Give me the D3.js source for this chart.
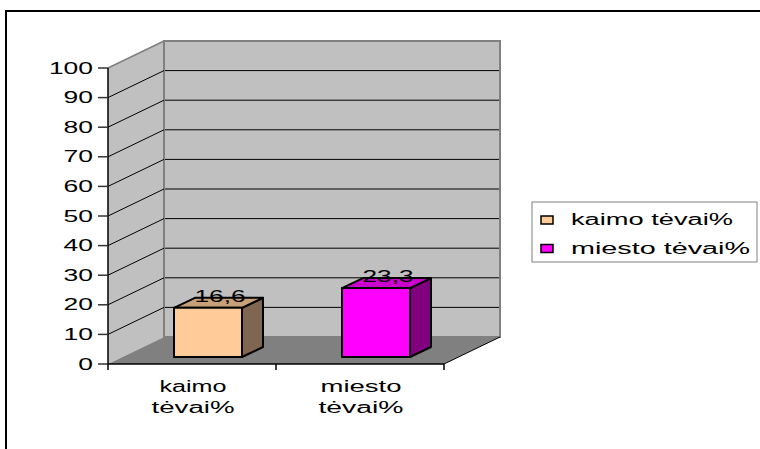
<!DOCTYPE html>
<html>
<head>
<meta charset="utf-8">
<script src="https://cdn.jsdelivr.net/npm/d3@7"></script>
<style>
  body { margin: 0; background: #fff; }
  svg { display: block; }
  text { font-family: "Liberation Sans", Arial, sans-serif; fill: #000; }
</style>
</head>
<body>
<svg width="760" height="449"></svg>
<script>
const categories = ["kaimo tėvai%", "miesto tėvai%"];
const catLines = [["kaimo", "tėvai%"], ["miesto", "tėvai%"]];
const values = [16.6, 23.3];
const valueLabels = ["16,6", "23,3"];
const seriesNames = ["kaimo tėvai%", "miesto tėvai%"];
const yTicks = [0, 10, 20, 30, 40, 50, 60, 70, 80, 90, 100];

const colors = [
  { front: "#FFCC99", top: "#C8A078", side: "#806650" },
  { front: "#FF00FF", top: "#CC00CC", side: "#800080" }
];

const svg = d3.select("svg");
const depth = { x: 56, y: -27 };       // wall depth
const barDepth = { x: 21, y: -10 };    // bar depth
const barShift = { x: 16, y: -7 };     // bar position inside the floor
const barW = 68;
const fs = 16;

const y = d3.scaleLinear().domain([0, 100]).range([364, 68]);
const x = d3.scaleBand().domain(categories).range([108, 444]);

// outer frame
svg.append("rect")
  .attr("x", 6).attr("y", 11)
  .attr("width", 800).attr("height", 500)
  .attr("fill", "none").attr("stroke", "#000").attr("stroke-width", 2);

const x0 = x.range()[0], x1 = x.range()[1];
const yTop = y(100), yBot = y(0);

// left wall
svg.append("polygon")
  .attr("points", [[x0, yTop], [x0 + depth.x, yTop + depth.y], [x0 + depth.x, yBot + depth.y], [x0, yBot]].join(" "))
  .attr("fill", "#C0C0C0");
svg.append("line")
  .attr("x1", x0).attr("y1", yTop).attr("x2", x0 + depth.x).attr("y2", yTop + depth.y)
  .attr("stroke", "#808080").attr("stroke-width", 1.5);

// floor
svg.append("polygon")
  .attr("points", [[x0, yBot], [x0 + depth.x, yBot + depth.y], [x1 + depth.x, yBot + depth.y], [x1, yBot]].join(" "))
  .attr("fill", "#808080");

// back wall
svg.append("rect")
  .attr("x", x0 + depth.x).attr("y", yTop + depth.y)
  .attr("width", x1 - x0).attr("height", yBot - yTop)
  .attr("fill", "#C0C0C0").attr("stroke", "#808080").attr("stroke-width", 2);

// gridlines
const grid = yTicks.filter(d => d > 0 && d < 100);
svg.append("g").selectAll("line").data(grid).join("line")
  .attr("x1", x0 + depth.x + 1).attr("x2", x1 + depth.x - 1)
  .attr("y1", d => y(d) + depth.y).attr("y2", d => y(d) + depth.y)
  .attr("stroke", "#000").attr("stroke-width", 1);
svg.append("g").selectAll("line").data(grid).join("line")
  .attr("x1", x0).attr("x2", x0 + depth.x)
  .attr("y1", d => y(d)).attr("y2", d => y(d) + depth.y)
  .attr("stroke", "#000").attr("stroke-width", 1);

// axes lines
svg.append("line").attr("x1", x0).attr("x2", x0).attr("y1", yTop).attr("y2", yBot)
  .attr("stroke", "#000").attr("stroke-width", 1.5);
svg.append("line").attr("x1", x0).attr("x2", x1).attr("y1", yBot).attr("y2", yBot)
  .attr("stroke", "#000").attr("stroke-width", 1.5);
svg.append("line").attr("x1", x1).attr("y1", yBot).attr("x2", x1 + depth.x).attr("y2", yBot + depth.y)
  .attr("stroke", "#000").attr("stroke-width", 1);

// y ticks + labels
const yAxis = svg.append("g");
yAxis.selectAll("line").data(yTicks).join("line")
  .attr("x1", x0 - 10).attr("x2", x0)
  .attr("y1", d => y(d)).attr("y2", d => y(d))
  .attr("stroke", "#333").attr("stroke-width", 1.5);
yAxis.selectAll("text").data(yTicks).join("text")
  .attr("x", 93).attr("y", d => y(d) + 5.5)
  .attr("text-anchor", "end")
  .attr("font-size", fs)
  .attr("textLength", d => String(d).length * 14.7)
  .attr("lengthAdjust", "spacingAndGlyphs")
  .text(d => d);

// x ticks
const xTickPos = categories.map(c => x(c)).concat([x1]);
svg.append("g").selectAll("line").data(xTickPos).join("line")
  .attr("x1", d => d).attr("x2", d => d)
  .attr("y1", yBot).attr("y2", yBot + 6)
  .attr("stroke", "#000").attr("stroke-width", 1.5);

// x labels
const lineWidths = [[67, 83], [81, 85]];
categories.forEach((c, i) => {
  const cx = x(c) + x.bandwidth() / 2 + 1;
  catLines[i].forEach((t, j) => {
    svg.append("text")
      .attr("x", cx).attr("y", 392 + j * 21)
      .attr("text-anchor", "middle")
      .attr("font-size", fs)
      .attr("textLength", lineWidths[i][j])
      .attr("lengthAdjust", "spacingAndGlyphs")
      .text(t);
  });
});

// bars
const bars = svg.append("g");
categories.forEach((c, i) => {
  const bx = x(c) + (x.bandwidth() - barW) / 2 + barShift.x;
  const by0 = y(0) + barShift.y;
  const by1 = y(values[i]) + barShift.y;
  const col = colors[i];
  const g = bars.append("g")
    .attr("stroke", "#000").attr("stroke-width", 2).attr("stroke-linejoin", "round");
  // side
  g.append("polygon")
    .attr("points", [[bx + barW, by1], [bx + barW + barDepth.x, by1 + barDepth.y],
      [bx + barW + barDepth.x, by0 + barDepth.y], [bx + barW, by0]].join(" "))
    .attr("fill", col.side);
  // top
  g.append("polygon")
    .attr("points", [[bx, by1], [bx + barDepth.x, by1 + barDepth.y],
      [bx + barW + barDepth.x, by1 + barDepth.y], [bx + barW, by1]].join(" "))
    .attr("fill", col.top);
  // front
  g.append("rect")
    .attr("x", bx).attr("y", by1).attr("width", barW).attr("height", by0 - by1)
    .attr("fill", col.front);

  // value label
  bars.append("text")
    .attr("x", bx + (barW + barDepth.x) / 2 + 1.5)
    .attr("y", by1 + barDepth.y / 2 - 1)
    .attr("text-anchor", "middle")
    .attr("font-size", fs)
    .attr("textLength", 51)
    .attr("lengthAdjust", "spacingAndGlyphs")
    .text(valueLabels[i]);
});

// legend
const legend = svg.append("g");
legend.append("rect")
  .attr("x", 532).attr("y", 202).attr("width", 225).attr("height", 60)
  .attr("fill", "#fff").attr("stroke", "#808080").attr("stroke-width", 1);
const legW = [162, 179];
seriesNames.forEach((s, i) => {
  legend.append("rect")
    .attr("x", 541).attr("y", 216 + i * 28.5).attr("width", 12).attr("height", 8)
    .attr("fill", colors[i].front).attr("stroke", "#000").attr("stroke-width", 1.5);
  legend.append("text")
    .attr("x", 571).attr("y", 225 + i * 28.5)
    .attr("font-size", fs)
    .attr("textLength", legW[i])
    .attr("lengthAdjust", "spacingAndGlyphs")
    .text(s);
});
</script>
</body>
</html>
